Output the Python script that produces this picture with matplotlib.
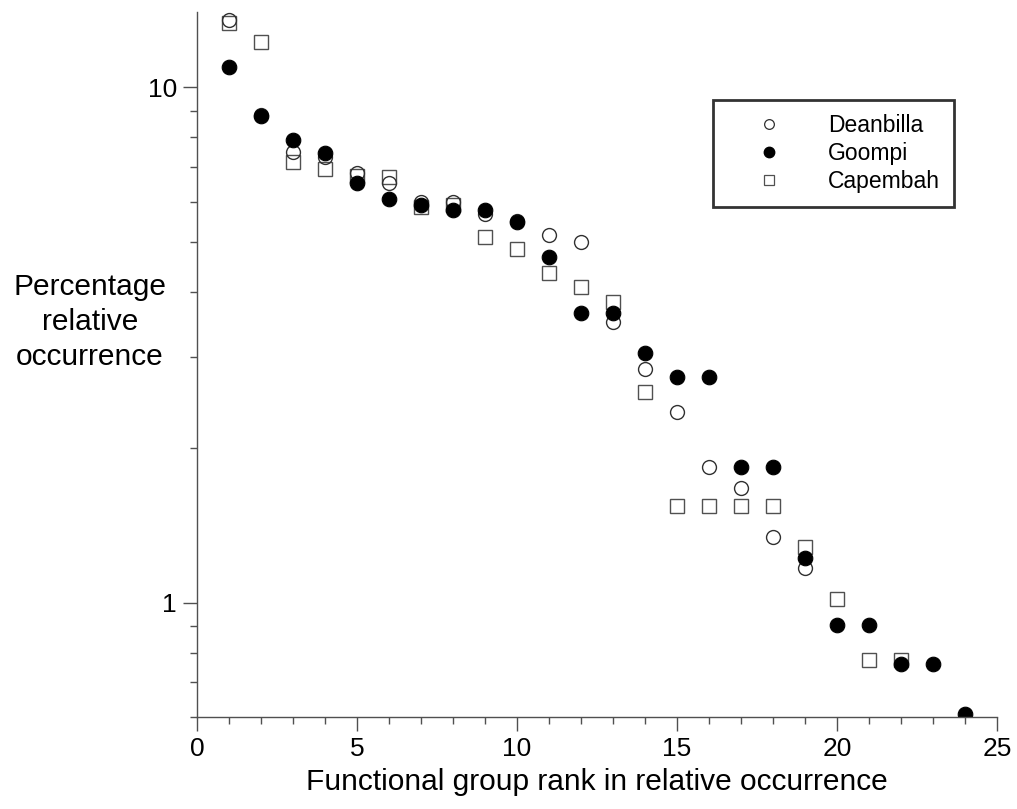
import matplotlib.pyplot as plt
from matplotlib.lines import Line2D
from matplotlib.ticker import LogLocator, FixedLocator, NullFormatter, FormatStrFormatter
import numpy as np

plt.rcParams['font.family'] = ['Liberation Sans', 'DejaVu Sans']

# percentage relative occurrence by functional group rank
deanbilla_rank = list(range(1, 20))
deanbilla = [13.5, 8.85, 7.49, 7.32, 6.82, 6.52, 5.99, 5.99, 5.68, 5.5,
             5.17, 5.01, 3.51, 2.84, 2.34, 1.83, 1.67, 1.34, 1.17]

goompi_rank = list(range(1, 25))
goompi = [10.93, 8.79, 7.9, 7.45, 6.52, 6.07, 5.91, 5.78, 5.78, 5.48,
          4.69, 3.64, 3.64, 3.05, 2.74, 2.74, 1.83, 1.83, 1.22, 0.907,
          0.907, 0.76, 0.76, 0.607]

capembah_rank = list(range(1, 23))
capembah = [13.3, 12.27, 7.16, 6.94, 6.73, 6.70, 5.86, 5.91, 5.13, 4.86,
            4.37, 4.09, 3.84, 2.56, 1.54, 1.54, 1.54, 1.54, 1.28, 1.018,
            0.774, 0.774]

fig = plt.figure(figsize=(10.17, 8.09), dpi=100)
ax = fig.add_axes([197 / 1017, 1 - 717 / 809, 800 / 1017, 705 / 809])

ax.plot(capembah_rank, capembah, linestyle='none', marker='s', markersize=9.5,
        markerfacecolor='none', markeredgecolor='#505050', markeredgewidth=1.0)
ax.plot(deanbilla_rank, deanbilla, linestyle='none', marker='o', markersize=10,
        markerfacecolor='none', markeredgecolor='#303030', markeredgewidth=1.0)
ax.plot(goompi_rank, goompi, linestyle='none', marker='o', markersize=10.5,
        markerfacecolor='black', markeredgecolor='black', markeredgewidth=0.8)

ax.set_yscale('log')
ax.set_xlim(0, 25)
ax.set_ylim(0.6, 14)

ax.xaxis.set_major_locator(FixedLocator([0, 5, 10, 15, 20, 25]))
ax.xaxis.set_minor_locator(FixedLocator(np.arange(0, 26, 1)))
ax.yaxis.set_major_locator(FixedLocator([1, 10]))
ax.yaxis.set_major_formatter(FormatStrFormatter('%g'))
ax.yaxis.set_minor_locator(LogLocator(base=10, subs=np.arange(2, 10)))
ax.yaxis.set_minor_formatter(NullFormatter())

for side in ['top', 'right']:
    ax.spines[side].set_visible(False)
for side in ['left', 'bottom']:
    ax.spines[side].set_color('#505050')
    ax.spines[side].set_linewidth(1.0)

ax.tick_params(which='major', direction='out', length=10, width=1.0,
               color='#505050', labelsize=19, pad=4.5)
ax.tick_params(which='minor', direction='out', length=5, width=1.0,
               color='#505050')

ax.set_xlabel('Functional group rank in relative occurrence', fontsize=21.5,
              labelpad=5)
fig.text(90 / 1017, 1 - 322 / 809, 'Percentage\nrelative\noccurrence',
         fontsize=21.5, ha='center', va='center', multialignment='center',
         linespacing=1.31)

handles = [
    Line2D([], [], linestyle='none', marker='o', markersize=7,
           markerfacecolor='none', markeredgecolor='#303030', markeredgewidth=0.9),
    Line2D([], [], linestyle='none', marker='o', markersize=7.5,
           markerfacecolor='black', markeredgecolor='black'),
    Line2D([], [], linestyle='none', marker='s', markersize=7,
           markerfacecolor='none', markeredgecolor='#505050', markeredgewidth=0.9),
]
leg = ax.legend(handles, ['Deanbilla', 'Goompi', 'Capembah'],
                loc='upper left', bbox_to_anchor=(713 / 1017, 1 - 100 / 809),
                bbox_transform=fig.transFigure, borderaxespad=0,
                fontsize=16.5, frameon=True, fancybox=False, handlelength=3.7,
                handletextpad=0.72, borderpad=0.6, labelspacing=0.22)
leg.get_frame().set_edgecolor('black')
leg.get_frame().set_linewidth(2)

fig.savefig('out.png', dpi=100)
